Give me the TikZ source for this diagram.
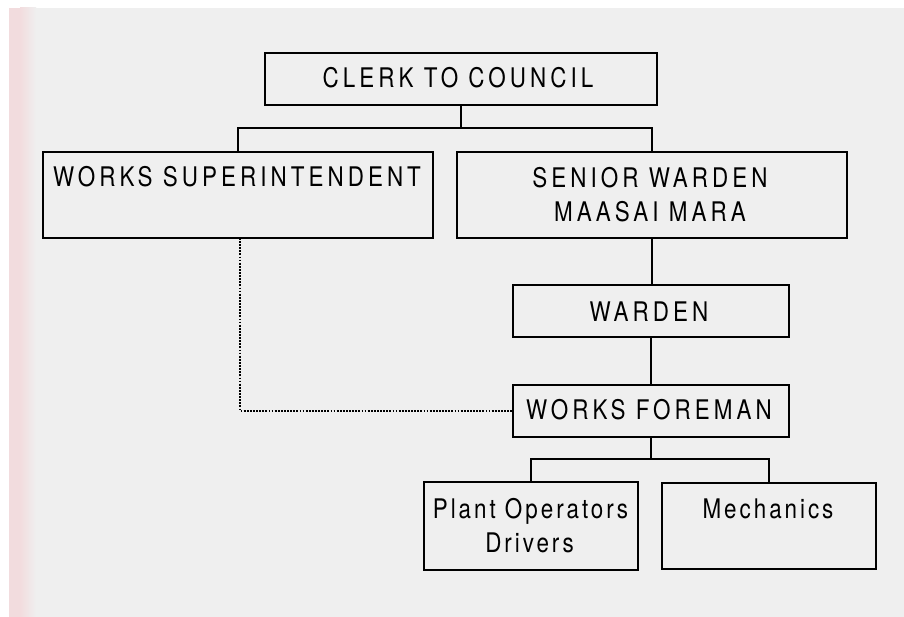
\documentclass[tikz,border=0pt]{standalone}
\usepackage{fontspec}
\setmainfont{TeX Gyre Heros}[FakeStretch=0.83,LetterSpace=15]
\newfontfamily\lowerfam{TeX Gyre Heros}[FakeStretch=0.83,LetterSpace=11]
\definecolor{bg}{HTML}{EFEFEF}
\definecolor{pinkc}{HTML}{F2DCDE}
\tikzset{
  box/.style={draw=black, line width=2pt, fill=bg, inner sep=0pt, outer sep=0pt},
  txt/.style={anchor=base, inner sep=0pt, font=\fontsize{27}{34}\selectfont},
  ltxt/.style={anchor=base, inner sep=0pt, font=\lowerfam\fontsize{27}{34}\selectfont},
  link/.style={draw=black, line width=2pt},
  dotlink/.style={draw=black, line width=2.2pt, dash pattern=on 1.8pt off 1.3pt}
}
\begin{document}
\begin{tikzpicture}[x=1pt,y=-1pt]
\useasboundingbox (0,0) rectangle (904,617);
\fill[white] (0,0) rectangle (904,617);
\fill[bg] (9,8) rectangle (904,617);
\fill[pinkc] (9,8) rectangle (20,617);
\shade[left color=pinkc, right color=bg] (20,8) rectangle (36,617);

% boxes
\node[box, minimum width=392pt, minimum height=52pt] (clerk) at (461,79) {};
\node[box, minimum width=390pt, minimum height=86pt] (ws) at (238,195) {};
\node[box, minimum width=390pt, minimum height=86pt] (sw) at (652,195) {};
\node[box, minimum width=276pt, minimum height=52pt] (warden) at (651,311) {};
\node[box, minimum width=276pt, minimum height=52pt] (wf) at (651,411) {};
\node[box, minimum width=214pt, minimum height=88pt] (plant) at (531,526) {};
\node[box, minimum width=214pt, minimum height=86pt] (mech) at (769,526) {};

% texts
\node[txt] (tclerk) at (458,88) {CLERK TO COUNCIL};
\node[txt] (tws) at (237,187) {WORKS SUPERINTENDENT};
\node[txt] (tsw1) at (650,188) {SENIOR WARDEN};
\node[txt] (tsw2) at (650,222) {MAASAI MARA};
\node[txt] (twarden) at (649,321) {WARDEN};
\node[txt] (twf) at (649,419) {WORKS FOREMAN};
\node[ltxt] (tplant1) at (530.5,518) {Plant Operators};
\node[ltxt] (tplant2) at (529.5,552) {Drivers};
\node[ltxt] (tmech) at (768,518) {Mechanics};

% connectors
\coordinate (j1) at (461,128);
\coordinate (j2) at (651,459);
\coordinate (d1) at (240,409);
\draw[link] (clerk.south) -- (j1);
\draw[link] (ws.north) |- (j1) -| (sw.north);
\draw[link] (sw.south) -- (sw.south |- warden.north);
\draw[link] (warden.south) -- (wf.north);
\draw[link] (wf.south) -- (j2);
\draw[link] (plant.north) |- (j2) -| (mech.north);
\draw[dotlink] (ws.south -| d1) |- (wf.west);
\end{tikzpicture}
\end{document}
